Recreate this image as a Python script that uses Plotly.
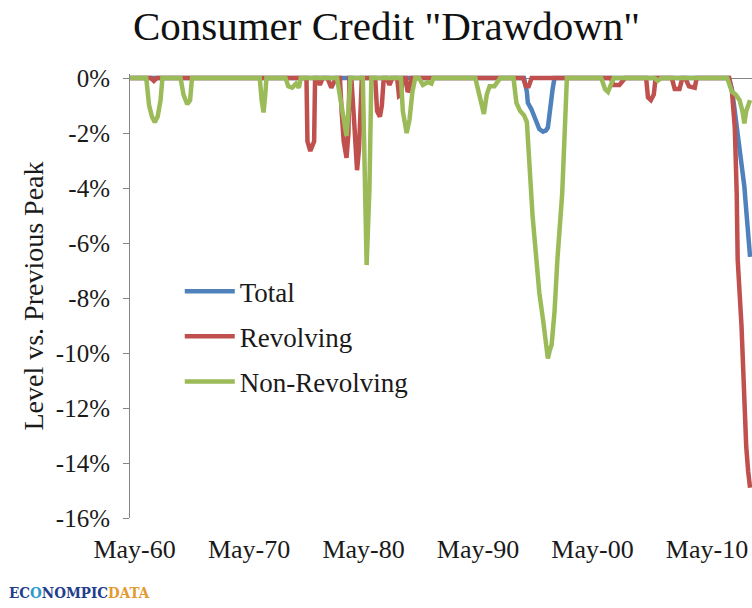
import plotly.graph_objects as go

# ---- data ----
total_dates = ["1956-05", "1990-10", "1991-01", "1991-02", "1991-06", "1991-11", "1992-02",
               "1992-06", "1992-09", "1992-11", "1993-01", "1993-04", "1993-06",
               "2008-09", "2008-12", "2009-05", "2009-10", "2010-01", "2010-03", "2010-05",
               "2010-06", "2010-07"]
total_values = [0, 0, -0.5, -0.9, -1.15, -1.6, -1.85,
                -1.95, -1.9, -1.8, -1.15, -0.4, 0,
                0, -0.4, -1.8, -3.0, -3.95, -4.8, -5.5,
                -6.0, -6.5]

revolving_dates = ["1956-05",
                   "1958-03", "1958-06", "1958-09",
                   "1971-10", "1971-11", "1972-02", "1972-06", "1972-07",
                   "1972-09", "1972-12", "1973-03",
                   "1973-08", "1973-12", "1974-05",
                   "1974-09", "1974-11", "1975-01", "1975-04", "1975-06", "1975-07",
                   "1975-09", "1975-12", "1976-03", "1976-05", "1976-07", "1976-08",
                   "1977-10", "1977-12", "1978-03", "1978-05", "1978-07",
                   "1978-10", "1979-01", "1979-04",
                   "1979-09", "1979-11", "1980-01", "1980-03",
                   "1980-06", "1980-08", "1980-10", "1980-12",
                   "1990-09", "1990-12", "1991-03", "1991-06",
                   "1998-05", "1998-08", "1999-02", "1999-08",
                   "2001-06", "2001-08", "2001-11", "2002-02", "2002-04",
                   "2003-09", "2003-12", "2004-05", "2004-08",
                   "2004-11", "2005-03", "2005-09", "2005-11",
                   "2008-09", "2008-12", "2009-03", "2009-05", "2009-06", "2009-10",
                   "2009-12", "2010-03", "2010-05", "2010-07"]
revolving_values = [0,
                    0, -0.1, 0,
                    0, -2.3, -2.65, -2.3, 0,
                    0, -0.25, 0,
                    0, -0.35, 0,
                    0, -1.3, -2.3, -2.9, -2.0, 0,
                    0, -1.6, -3.35, -2.6, -1.0, 0,
                    0, -1.2, -1.4, -1.0, 0,
                    0, -0.25, 0,
                    0, -0.65, -0.6, 0,
                    0, -0.5, -0.4, 0,
                    0, -0.3, -0.3, 0,
                    0, -0.25, -0.25, 0,
                    0, -0.7, -0.8, -0.6, 0,
                    0, -0.4, -0.4, 0,
                    0, -0.3, -0.35, 0,
                    0, -0.5, -1.8, -4.2, -6.6, -9.0,
                    -11.3, -13.4, -14.3, -14.9]

nonrev_dates = ["1956-05",
                "1957-10", "1958-01", "1958-04", "1958-07", "1958-10", "1959-01", "1959-03",
                "1960-10", "1961-01", "1961-05", "1961-08", "1961-10",
                "1967-09", "1967-11", "1968-01", "1968-03", "1968-04",
                "1969-12", "1970-03", "1970-07", "1970-11", "1971-02", "1971-04",
                "1974-06", "1974-09", "1975-01", "1975-04", "1975-06", "1975-08",
                "1976-09", "1976-11", "1977-01", "1977-04", "1977-06",
                "1980-01", "1980-03", "1980-05", "1980-07", "1980-10", "1981-01", "1981-04",
                "1981-08", "1981-12", "1982-05", "1982-09", "1982-11",
                "1986-07", "1986-12", "1987-04", "1987-07", "1987-10", "1988-03", "1988-09",
                "1989-11", "1990-02", "1990-06", "1990-10", "1991-01", "1991-04", "1991-07",
                "1991-11", "1992-02", "1992-06", "1992-09", "1992-11", "1993-01", "1993-03",
                "1993-06", "1993-09", "1994-02", "1994-05", "1994-07",
                "1997-07", "1997-11", "1998-02", "1998-06", "1998-08",
                "2002-03", "2002-06", "2002-10",
                "2008-07", "2008-12", "2009-04", "2009-08", "2009-11", "2010-01", "2010-03",
                "2010-06", "2010-07"]
nonrev_values = [0,
                 0, -1.0, -1.4, -1.6, -1.4, -0.8, 0,
                 0, -0.6, -0.95, -0.8, 0,
                 0, -0.8, -1.25, -0.5, 0,
                 0, -0.3, -0.35, -0.2, -0.35, 0,
                 0, -0.6, -1.5, -2.1, -1.2, 0,
                 0, -3.5, -6.8, -4.0, 0,
                 0, -1.2, -1.6, -2.0, -1.5, -0.5, 0,
                 0, -0.25, -0.15, -0.2, 0,
                 0, -0.8, -1.3, -0.6, -0.3, -0.3, 0,
                 0, -0.9, -1.2, -1.35, -1.6, -3.6, -5.0,
                 -6.6, -7.8, -8.8, -9.6, -10.2, -9.9, -9.7,
                 -8.5, -6.6, -4.2, -1.8, 0,
                 0, -0.4, -0.5, -0.2, 0,
                 0, -0.1, 0,
                 0, -0.5, -0.6, -0.8, -1.2, -1.65, -1.2,
                 -0.9, -0.8]

x_tick_dates = ["1960-05-01", "1970-05-01", "1980-05-01", "1990-05-01", "2000-05-01", "2010-05-01"]
x_tick_labels = ["May-60", "May-70", "May-80", "May-90", "May-00", "May-10"]
y_tick_values = [0, -2, -4, -6, -8, -10, -12, -14, -16]
y_tick_labels = ["0%", "-2%", "-4%", "-6%", "-8%", "-10%", "-12%", "-14%", "-16%"]

series_names = ["Total", "Revolving", "Non-Revolving"]
series_colors = ["#4F81BD", "#C0504D", "#9BBB59"]

FONT = "Liberation Serif"
AXIS_GRAY = "#868686"

fig = go.Figure()
for name, xs, ys, col in zip(series_names,
                             [total_dates, revolving_dates, nonrev_dates],
                             [total_values, revolving_values, nonrev_values],
                             series_colors):
    fig.add_trace(go.Scatter(x=xs, y=ys, mode="lines", name=name, legendgroup=name,
                             line=dict(color=col, width=4.5)))

x_range = ["1956-05-01", "2010-09-01"]

fig.update_layout(
    width=752, height=608,
    margin=dict(l=130, r=0, t=74, b=90),
    paper_bgcolor="white", plot_bgcolor="white",
    font=dict(family=FONT, color="#1a1a1a"),
    title=dict(text='Consumer Credit "Drawdown"', font=dict(family=FONT, size=41, color="#111111"),
               x=0.514, xref="container", xanchor="center",
               y=0.958, yref="container", yanchor="middle"),
    xaxis=dict(type="date", range=x_range, tickvals=x_tick_dates, ticktext=x_tick_labels,
               ticks="", showline=False, showgrid=False, zeroline=False,
               ticklabelposition="outside left", ticklabelstandoff=13,
               tickfont=dict(family=FONT, size=26, color="#1a1a1a")),
    xaxis2=dict(type="date", range=x_range, overlaying="x", side="top", anchor="y",
                tickvals=x_tick_dates, showticklabels=False, ticks="inside", ticklen=13,
                tickcolor=AXIS_GRAY, showline=False, showgrid=False, zeroline=False),
    yaxis=dict(range=[-16, 0.15], tickvals=y_tick_values, ticktext=y_tick_labels,
               ticks="outside", ticklen=6, tickcolor=AXIS_GRAY,
               showline=True, linecolor=AXIS_GRAY, linewidth=1,
               showgrid=False, zeroline=True, zerolinecolor=AXIS_GRAY, zerolinewidth=1,
               ticklabelstandoff=8,
               tickfont=dict(family=FONT, size=25, color="#1a1a1a"),
               title=dict(text="Level vs. Previous Peak", standoff=4,
                          font=dict(family=FONT, size=28, color="#1a1a1a"))),
    legend=dict(x=0.08, y=0.565, xanchor="left", yanchor="top", bgcolor="rgba(0,0,0,0)",
                font=dict(family=FONT, size=27, color="#1a1a1a"),
                tracegroupgap=7, itemwidth=50),
    showlegend=True,
)

fig.add_annotation(
    xref="paper", yref="paper", x=-0.197, y=-0.169, xanchor="left", yanchor="middle",
    showarrow=False,
    text="<b><span style='color:#1F3E8C'>EC</span><span style='color:#2E9AD0'>O</span>"
         "<span style='color:#1F3E8C'>NOMPIC</span><span style='color:#E39A2E'>DATA</span></b>",
    font=dict(family="DejaVu Serif Condensed", size=15),
)

fig.write_html("out.html", config={"displayModeBar": False},
               post_script="document.body.style.margin='0px';")
